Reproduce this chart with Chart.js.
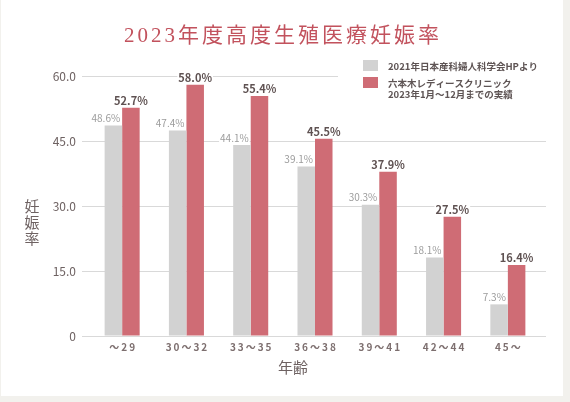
<!DOCTYPE html>
<html lang="ja">
<head>
<meta charset="utf-8">
<script src="https://cdn.jsdelivr.net/npm/chart.js@4.4.1/dist/chart.umd.min.js"></script>
<style>
  html, body { margin: 0; padding: 0; background: #f2f1ed; }
  .card {
    position: absolute; left: 1px; top: 0;
    width: 562px; height: 396px; background: #fff;
  }
  canvas { display: block; }
</style>
</head>
<body>
<div class="card"><canvas id="rateChart" width="562" height="396"></canvas></div>
<script>
// ── データ ───────────────────────────────────────
const chartTitle   = '2023年度高度生殖医療妊娠率';
const xTitle       = '年齢';
const yTitle       = '妊娠率';
const ageGroups    = ['～29', '30～32', '33～35', '36～38', '39～41', '42～44', '45～'];
const jsogRates    = [48.6, 47.4, 44.1, 39.1, 30.3, 18.1, 7.3];
const clinicRates  = [52.7, 58.0, 55.4, 45.5, 37.9, 27.5, 16.4];
const yTickValues  = [0, 15, 30, 45, 60];
const jsogLabel    = ['2021年日本産科婦人科学会HPより'];
const clinicLabel  = ['六本木レディースクリニック', '2023年1月～12月までの実績'];

// ── 色・フォント ─────────────────────────────────
const C = {
  gray: '#d2d2d2',
  red: '#cf6c75',
  title: '#c2525d',
  text: '#6e6262',
  grid: '#d9d9d9'
};
const SANS = '"Noto Sans CJK JP", "Noto Sans", sans-serif';
const SERIF = '"Liberation Serif", "DejaVu Serif", "Noto Sans CJK JP", serif';

// バー上の数値ラベル（白背景つき）
const barLabels = {
  id: 'barLabels',
  afterDatasetsDraw(chart) {
    const ctx = chart.ctx;
    ctx.save();
    ctx.textBaseline = 'middle';
    chart.data.datasets.forEach((ds, di) => {
      const meta = chart.getDatasetMeta(di);
      meta.data.forEach((bar, i) => {
        const text = ds.data[i].toFixed(1) + '%';
        let x, align;
        if (di === 0) {
          ctx.font = '10px ' + SANS;
          ctx.fillStyle = '#9c9c9c';
          align = 'right';
          x = bar.x + bar.width / 2 - 2;
        } else {
          ctx.font = 'bold 11px ' + SANS;
          ctx.fillStyle = '#5f5252';
          align = 'center';
          x = bar.x;
        }
        const y = bar.y - 7;
        const w = ctx.measureText(text).width;
        const left = align === 'right' ? x - w : x - w / 2;
        const fill = ctx.fillStyle;
        ctx.fillStyle = '#fff';
        ctx.fillRect(left - 1, y - 6, w + 2, 12);
        ctx.fillStyle = fill;
        ctx.textAlign = align;
        ctx.fillText(text, x, y);
      });
    });
    ctx.restore();
  }
};

// タイトル・凡例・軸タイトル
const header = {
  id: 'header',
  afterDraw(chart) {
    const ctx = chart.ctx;
    const area = chart.chartArea;
    ctx.save();

    // タイトル
    ctx.font = '21px ' + SERIF;
    ctx.letterSpacing = '3px';
    ctx.fillStyle = C.title;
    ctx.textAlign = 'center';
    ctx.textBaseline = 'middle';
    ctx.fillText(chartTitle, chart.width / 2 + 1, 36);
    ctx.letterSpacing = '0px';

    // 凡例
    ctx.fillStyle = '#fff';
    ctx.fillRect(337, 54, area.right + 10 - 337, 50);
    const items = [
      { color: chart.data.datasets[0].backgroundColor, lines: jsogLabel, top: 60 },
      { color: chart.data.datasets[1].backgroundColor, lines: clinicLabel, top: 77 }
    ];
    ctx.font = 'bold 9.5px ' + SANS;
    ctx.textAlign = 'left';
    items.forEach(it => {
      ctx.fillStyle = it.color;
      ctx.fillRect(362, it.top, 15, 11);
      ctx.fillStyle = '#5e5454';
      it.lines.forEach((line, k) => ctx.fillText(line, 387, it.top + 6 + k * 11));
    });

    // 軸タイトル
    ctx.fillStyle = C.text;
    ctx.font = '15px ' + SANS;
    ctx.textAlign = 'center';
    ctx.fillText(xTitle, 292, 367);
    [...yTitle].forEach((ch, k) => ctx.fillText(ch, 31, 206 + k * 16));

    ctx.restore();
  }
};

new Chart(document.getElementById('rateChart'), {
  type: 'bar',
  data: {
    labels: ageGroups,
    datasets: [
      {
        label: jsogLabel.join(' '),
        data: jsogRates,
        backgroundColor: C.gray,
        categoryPercentage: 0.545,
        barPercentage: 1.0
      },
      {
        label: clinicLabel.join(' '),
        data: clinicRates,
        backgroundColor: C.red,
        categoryPercentage: 0.545,
        barPercentage: 1.0
      }
    ]
  },
  options: {
    responsive: false,
    animation: false,
    layout: { padding: { top: 76, right: 0, bottom: 0, left: 0 } },
    plugins: {
      legend: { display: false },
      title: { display: false },
      tooltip: { enabled: false }
    },
    scales: {
      x: {
        grid: { display: false, drawTicks: false },
        border: { display: false },
        ticks: {
          color: '#7d6f6f',
          font: { size: 10, family: SANS, weight: 'bold' },
          padding: 5,
          callback: (v, i) => [...ageGroups[i]].join('\u2009')
        },
        afterFit: (s) => { s.height = 60; }
      },
      y: {
        min: 0,
        max: 60,
        afterBuildTicks: (s) => { s.ticks = yTickValues.map(v => ({ value: v })); },
        grid: { color: C.grid, drawTicks: true, tickLength: 8 },
        border: { display: false },
        ticks: {
          color: C.text,
          font: { size: 12, family: SANS },
          padding: 6,
          callback: (v) => v === 0 ? '0' : v.toFixed(1)
        },
        afterFit: (s) => { s.width = 89; }
      },
      y2: {
        position: 'right',
        min: 0,
        max: 60,
        afterBuildTicks: (s) => { s.ticks = yTickValues.map(v => ({ value: v })); },
        grid: { color: C.grid, drawOnChartArea: false, drawTicks: true, tickLength: 6 },
        border: { display: false },
        ticks: { display: false },
        afterFit: (s) => { s.width = 23; }
      }
    }
  },
  plugins: [barLabels, header]
});
</script>
</body>
</html>
